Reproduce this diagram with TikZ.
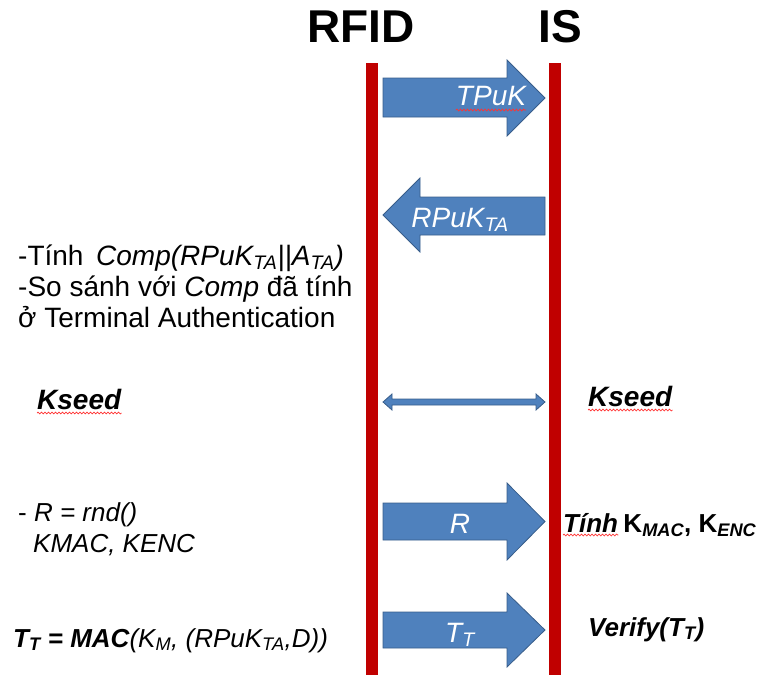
\documentclass[tikz,border=0pt]{standalone}
\usepackage{fontspec}
\setmainfont{Liberation Sans}
\usetikzlibrary{decorations.pathmorphing}
\definecolor{lifered}{HTML}{C00000}
\definecolor{arrowfill}{HTML}{4F81BD}
\definecolor{arrowline}{HTML}{385D8A}
\tikzset{
  lifeline/.style={fill=lifered},
  blockarrow/.style={fill=arrowfill, draw=arrowline, line width=0.8pt, line join=miter},
  arrowtext/.style={text=white, font=\fontsize{28}{30}\selectfont\itshape, inner sep=0pt, anchor=base},
  lefttext/.style={anchor=base west, inner sep=0pt, font=\fontsize{28}{31}\selectfont},
  smalltext/.style={anchor=base west, inner sep=0pt, font=\fontsize{26}{30}\selectfont},
  keytext/.style={anchor=base west, inner sep=0pt, font=\fontsize{28}{30}\selectfont\bfseries\itshape},
  header/.style={inner sep=0pt, font=\fontsize{46}{50}\selectfont\bfseries},
  squiggle/.style={draw=red!80, line width=0.7pt, decorate, decoration={snake, amplitude=0.9pt, segment length=3.5pt}},
}
\begin{document}
\begin{tikzpicture}[x=1pt,y=-1pt]
\useasboundingbox (0,0) rectangle (758,675);
% headers
\node[header] (rfid) at (361,27) {RFID};
\node[header] (is) at (560,27) {IS};
% lifelines
\fill[lifeline] (366,63) rectangle (378,675);
\fill[lifeline] (549,63) rectangle (561,675);
% block arrows
\draw[blockarrow] (383,78) -- (507,78) -- (507,60) -- (545,98) -- (507,136) -- (507,117) -- (383,117) -- cycle;
\draw[blockarrow] (545,197) -- (420,197) -- (420,178) -- (383,215) -- (420,252) -- (420,235) -- (545,235) -- cycle;
\draw[blockarrow] (383,402) -- (392,394) -- (392,399) -- (536,399) -- (536,394) -- (545,402) -- (536,410) -- (536,405) -- (392,405) -- (392,410) -- cycle;
\draw[blockarrow] (383,503) -- (507,503) -- (507,483) -- (545,521.5) -- (507,560) -- (507,540) -- (383,540) -- cycle;
\draw[blockarrow] (383,612) -- (507,612) -- (507,593) -- (545,630) -- (507,667) -- (507,648) -- (383,648) -- cycle;
% arrow labels
\node[arrowtext] (tpuk) at (491,105) {TPuK};
\draw[squiggle] ([yshift=-5pt]tpuk.base west) -- ([yshift=-5pt]tpuk.base east);
\node[arrowtext] (rpuk) at (460,227) {RPuK\textsubscript{TA}};
\node[arrowtext] (rlab) at (460,533) {R};
\node[arrowtext] (tlab) at (460,642) {T\textsubscript{T}};
% left texts
\node[lefttext] (l1) at (18,265) {-Tính\hspace{0.45em}\textit{Comp(RPuK\textsubscript{TA}||A\textsubscript{TA})}};
\node[lefttext] (l2) at (18,296) {-So sánh với \textit{Comp} đã tính};
\node[lefttext] (l3) at (18,327) {ở Terminal Authentication};
\node[keytext] (kseedL) at (37,409) {Kseed};
\draw[squiggle] ([yshift=-4pt]kseedL.base west) -- ([yshift=-4pt]kseedL.base east);
\node[keytext] (kseedR) at (588,406) {Kseed};
\draw[squiggle] ([yshift=-4pt]kseedR.base west) -- ([yshift=-4pt]kseedR.base east);
\node[smalltext] (rnd) at (18,521) {- \textit{R = rnd()}};
\node[smalltext] (keys) at (33,552) {\textit{KMAC, KENC}};
\node[smalltext, font=\fontsize{26}{30}\selectfont\bfseries\itshape] (tinh) at (563,532) {Tính};
\draw[squiggle] ([yshift=-3pt]tinh.base west) -- ([yshift=-3pt]tinh.base east);
\node[smalltext, font=\fontsize{26}{30}\selectfont\bfseries, anchor=base west] (kk) at ([xshift=5pt]tinh.base east) {K\textsubscript{\itshape MAC}, K\textsubscript{\itshape ENC}};
\node[smalltext, font=\fontsize{26}{30}\selectfont\itshape] (mac) at (13,647) {\bfseries T\textsubscript{T} = MAC\mdseries(K\textsubscript{M}, (RPuK\textsubscript{TA},D))};
\node[smalltext, font=\fontsize{26}{30}\selectfont\bfseries\itshape] (verify) at (588,636) {Verify(T\textsubscript{T})};
\end{tikzpicture}
\end{document}
